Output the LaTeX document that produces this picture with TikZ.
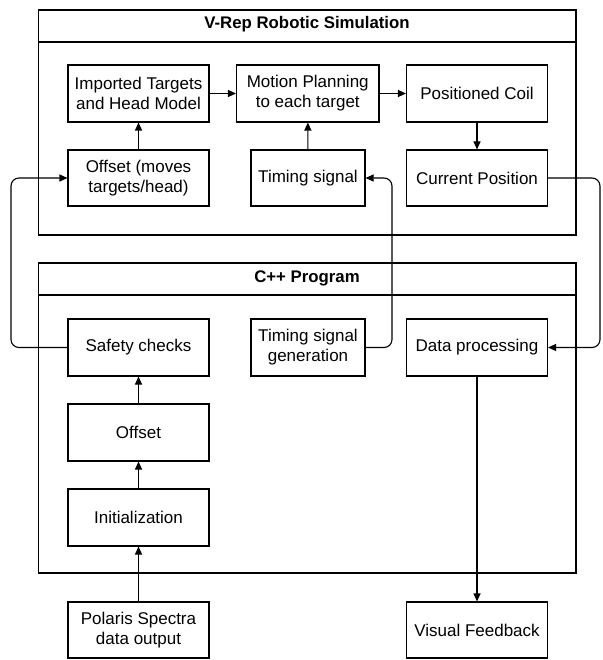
\documentclass[tikz,border=0pt]{standalone}
\usepackage{fontspec}
\setmainfont{Liberation Sans}
\usetikzlibrary{arrows.meta}
\begin{document}
\begin{tikzpicture}[x=1pt,y=-1pt,
  box/.style={draw,line width=1.1pt,minimum height=57pt,inner sep=1pt,align=center,font=\fontsize{17}{20}\selectfont},
  frame/.style={draw,line width=1.1pt},
  ttl/.style={font=\bfseries\fontsize{16.8}{19}\selectfont},
  arr/.style={line width=1.1pt,-{Triangle[length=8pt,width=7pt]}},
  ln/.style={line width=1.1pt}]
\useasboundingbox (0,0) rectangle (602,660);
% frames
\draw[frame] (38.5,10) rectangle (576,235);
\draw[frame] (38.5,42) -- (576,42);
\node[ttl] (t1) at (307,24) {V-Rep Robotic Simulation};
\draw[frame] (38.5,263) rectangle (576,573);
\draw[frame] (38.5,295) -- (576,295);
\node[ttl] (t2) at (307,278) {C++ Program};
% V-Rep nodes
\node[box,minimum width=141pt] (imp) at (138.5,93.5) {Imported Targets\\and Head Model};
\node[box,minimum width=142.5pt] (mot) at (307.75,93.5) {Motion Planning\\to each target};
\node[box,minimum width=141pt] (pos) at (477,93.5) {Positioned Coil};
\node[box,minimum width=141pt,minimum height=56pt] (offm) at (138.5,178) {Offset (moves\\targets/head)};
\node[box,minimum width=114pt,minimum height=56pt] (ts) at (308,178) {Timing signal};
\node[box,minimum width=141pt,minimum height=56pt] (cur) at (477,178) {Current Position};
% C++ nodes
\node[box,minimum width=141pt] (saf) at (138.5,347.5) {Safety checks};
\node[box,minimum width=114pt] (tsg) at (308,347.5) {Timing signal\\generation};
\node[box,minimum width=141pt] (dp) at (477,347.5) {Data processing};
\node[box,minimum width=141pt] (off) at (138.5,432.5) {Offset};
\node[box,minimum width=141pt] (ini) at (138.5,517.5) {Initialization};
\node[box,minimum width=141pt,minimum height=56pt] (pol) at (138.5,630) {Polaris Spectra\\data output};
\node[box,minimum width=141pt,minimum height=56pt] (vf) at (477,630) {Visual Feedback};
% coordinates
\coordinate (l1) at (11,347.5);
\coordinate (l2) at (11,178);
\coordinate (r1) at (600,178);
\coordinate (r2) at (600,347.5);
\coordinate (m1) at (392,347.5);
\coordinate (m2) at (392,178);
% arrows
\draw[arr] (imp) -- (mot);
\draw[arr] (mot) -- (pos);
\draw[arr] (pos) -- (cur);
\draw[arr] (offm) -- (imp);
\draw[arr] (ts) -- (mot);
\draw[arr] (off) -- (saf);
\draw[arr] (ini) -- (off);
\draw[arr] (pol) -- (ini);
\draw[arr] (dp) -- (vf);
\draw[arr,rounded corners=8pt] (saf.west) -- (l1) -- (l2) -- (offm.west);
\draw[arr,rounded corners=8pt] (cur.east) -- (r1) -- (r2) -- (dp.east);
\draw[arr,rounded corners=8pt] (tsg.east) -- (m1) -- (m2) -- (ts.east);
\end{tikzpicture}
\end{document}
